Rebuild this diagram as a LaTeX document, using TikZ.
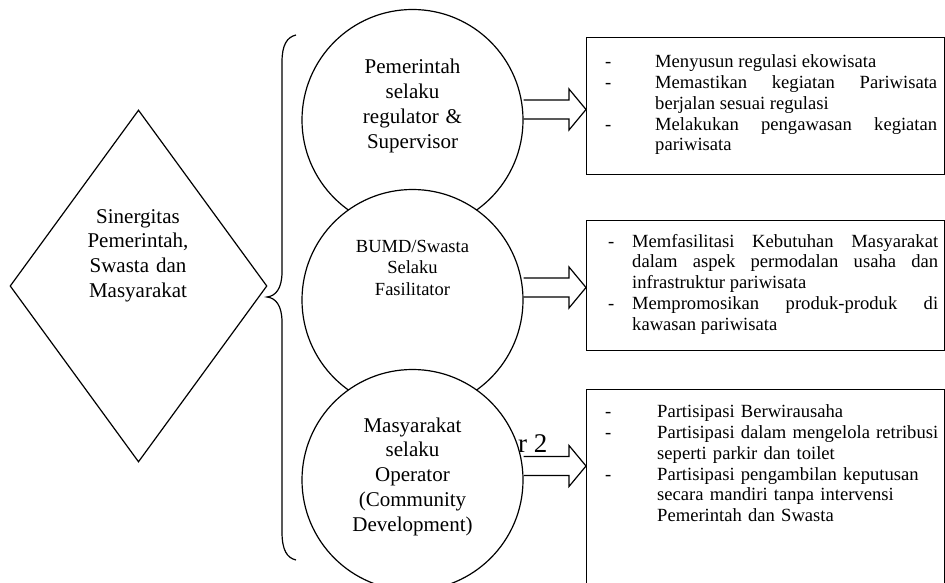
\documentclass[tikz,border=0pt]{standalone}
\usepackage{fontspec}
\setmainfont{Liberation Serif}
\usetikzlibrary{shapes.geometric,calc}

\newcommand{\butir}[2]{\noindent\hangindent=#1\hangafter=1\makebox[#1][l]{-}#2\par}

\tikzset{
	garis/.style={line width=1.2pt},
	peran/.style={garis, draw, circle, fill=white, minimum size=221pt, inner sep=0pt},
	judul/.style={align=center, text width=140pt, inner sep=0pt, anchor=base, font=\fontsize{21}{24.8}\selectfont},
	kotak/.style={garis, draw, rectangle, inner sep=0pt, minimum width=357.5pt, anchor=north west},
	isi/.style={inner sep=0pt, anchor=base west, align=justify, font=\fontsize{18.6}{20.8}\selectfont},
	panah/.style={garis, to path={
		($(\tikztostart)+(0,-9.5)$) -- ($(\tikztotarget)+(-17,-9.5)$) -- ($(\tikztotarget)+(-17,-20.5)$)
		-- (\tikztotarget) -- ($(\tikztotarget)+(-17,20.5)$) -- ($(\tikztotarget)+(-17,9.5)$) -- ($(\tikztostart)+(0,9.5)$)}}
}

\begin{document}
\begin{tikzpicture}[x=1pt,y=-1pt]
	\useasboundingbox (0,0) rectangle (945,583);
	
	%Sinergitas
	\node[garis, draw, diamond, minimum width=257pt, minimum height=352pt, inner sep=0pt] (sin) at (138.5,286) {};
	\node[judul] (sintxt) at (138,223) {Sinergitas\\Pemerintah,\\Swasta dan\\Masyarakat};
	
	%Kurung kurawal
	\draw[garis] (296,35) .. controls (287,37) and (282,45) .. (282,62) -- (282,272)
		.. controls (282,288) and (276,296) .. (267,297)
		.. controls (276,298) and (282,306) .. (282,322) -- (282,532)
		.. controls (282,550) and (287,558) .. (296,560);
	
	%Pemerintah
	\def\cx{412.5}
	\node[peran] (pem) at (\cx,120) {};
	\node[judul] (pemtxt) at (\cx,74) {Pemerintah\\selaku\\regulator \&\\Supervisor};
	
	%BUMD/Swasta
	\node[peran] (bumd) at (\cx,300) {};
	\node[judul, font=\fontsize{18.5}{21.5}\selectfont] (bumdtxt) at (\cx,252) {BUMD/Swasta\\Selaku\\Fasilitator};
	
	\node[inner sep=0pt, anchor=base east, font=\fontsize{27}{30}\selectfont] (sisa) at (547.5,452) {r 2};
	
	%Masyarakat
	\node[peran] (mas) at (\cx,480) {};
	\node[judul] (mastxt) at (\cx,432) {Masyarakat\\selaku\\Operator\\(Community\\Development)};
	
	%Kotak tugas
	\node[kotak, minimum height=137pt] (box1) at (586,37) {};
	\node[kotak, minimum height=130pt] (box2) at (586,220) {};
	\node[kotak, minimum height=200pt] (box3) at (586,389) {};
	
	\node[isi, text width=332pt] (isi1) at (605,67.7) {%
		\butir{50pt}{Menyusun regulasi ekowisata}%
		\butir{50pt}{Memastikan kegiatan Pariwisata\linebreak berjalan sesuai regulasi}%
		\butir{50pt}{Melakukan pengawasan kegiatan\linebreak pariwisata}};
	\node[isi, text width=330pt] (isi2) at (608,247) {%
		\butir{24pt}{Memfasilitasi Kebutuhan Masyarakat\linebreak dalam aspek permodalan usaha dan\linebreak infrastruktur pariwisata}%
		\butir{24pt}{Mempromosikan produk-produk di\linebreak kawasan pariwisata}};
	\node[isi, align=left, text width=333pt] (isi3) at (605,417.7) {%
		\butir{52pt}{Partisipasi Berwirausaha}%
		\butir{52pt}{Partisipasi dalam mengelola retribusi\newline seperti parkir dan toilet}%
		\butir{52pt}{Partisipasi pengambilan keputusan\newline secara mandiri tanpa intervensi\newline Pemerintah dan Swasta}};
	
	%Panah
	\coordinate (u1) at (box1.west |- 0,109.5);
	\coordinate (u2) at (box2.west |- 0,287.5);
	\coordinate (u3) at (box3.west |- 0,466);
	\draw[panah] (pem.east |- u1) to (u1);
	\draw[panah] (bumd.east |- u2) to (u2);
	\draw[panah] (mas.east |- u3) to (u3);
	
\end{tikzpicture}
\end{document}
